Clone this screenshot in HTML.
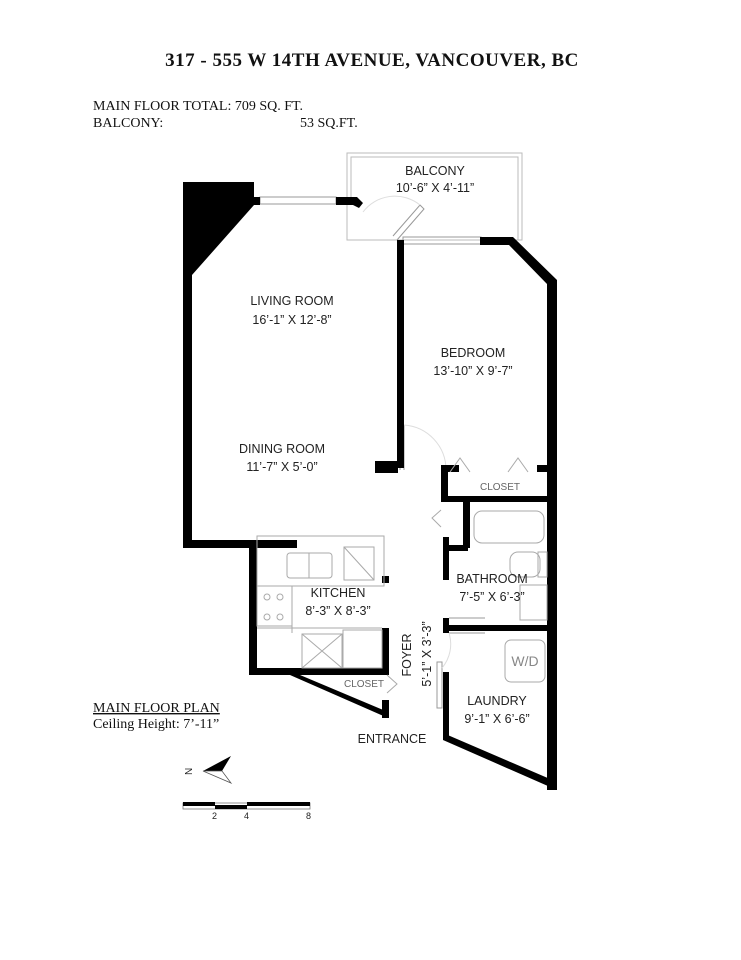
<!DOCTYPE html>
<html><head><meta charset="utf-8"><style>
body{margin:0;background:#fff}
svg{display:block}
.s{font-family:"Liberation Sans",sans-serif;fill:#222}
.r{font-family:"Liberation Serif",serif;fill:#111}
</style></head><body>
<svg width="741" height="960" viewBox="0 0 741 960">
<text x="372" y="66" text-anchor="middle" class="r" font-size="19" font-weight="bold" letter-spacing="0.5">317 - 555 W 14TH AVENUE, VANCOUVER, BC</text>
<text x="93" y="110" class="r" font-size="14">MAIN FLOOR TOTAL: 709 SQ. FT.</text>
<text x="93" y="127" class="r" font-size="14">BALCONY:</text>
<text x="300" y="127" class="r" font-size="14">53 SQ.FT.</text>
<text x="93" y="712" class="r" font-size="14" text-decoration="underline">MAIN FLOOR PLAN</text>
<text x="93" y="728" class="r" font-size="14">Ceiling Height: 7’-11”</text>

<!-- balcony -->
<g fill="none" stroke="#bbb" stroke-width="1">
<rect x="347" y="153" width="175" height="87"/>
<path d="M351 200 V157 H518 V240"/>
</g>
<!-- windows -->
<g fill="none" stroke="#999" stroke-width="1">
<rect x="260" y="197" width="76" height="7"/>
<rect x="403" y="237" width="78" height="7"/>
<path d="M393 236 L420 205 L424 209 L397 240"/>
<path d="M400 425 V470 M404 425 V470"/>
<path d="M437 662 V708 H442 V662 Z"/>
<path d="M449 618 H485 M449 633 H485"/>
</g>
<g fill="none" stroke="#ddd" stroke-width="1">
<path d="M404 425 A45 45 0 0 1 446 470"/>
<path d="M449 633 A37 37 0 0 1 442 668"/>
<path d="M363 212 A40 40 0 0 1 420 205"/>
</g>
<!-- walls -->
<g fill="#000">
<polygon points="183,182 254,182 254,205 192,275 192,548 183,548"/>
<rect x="254" y="197" width="6" height="8"/>
<polygon points="336,197 357,197 363,203 359,208 353,205 336,205"/>
<rect x="397" y="240" width="7" height="228"/>
<rect x="375" y="461" width="23" height="12"/>
<polygon points="480,237 513,237 557,280 557,790 547,790 547,284 509,245 480,245"/>
<rect x="441" y="465" width="18" height="7"/>
<rect x="537" y="465" width="12" height="7"/>
<rect x="441" y="465" width="7" height="37"/>
<rect x="441" y="496" width="110" height="6"/>
<rect x="463" y="502" width="7" height="46"/>
<rect x="443" y="537" width="6" height="43"/>
<rect x="443" y="545" width="25" height="6"/>
<rect x="443" y="618" width="6" height="15"/>
<rect x="443" y="625" width="110" height="6"/>
<rect x="443" y="672" width="6" height="68"/>
<polygon points="443,733 557,782 557,790 443,740"/>
<rect x="183" y="540" width="114" height="8"/>
<rect x="249" y="548" width="8" height="127"/>
<rect x="249" y="668" width="140" height="7"/>
<polygon points="290,675 300,675 388,712 388,718"/>
<rect x="382" y="700" width="7" height="18"/>
<rect x="382" y="628" width="7" height="40"/>
<rect x="382" y="576" width="7" height="7"/>
</g>
<!-- fixtures -->
<g fill="none" stroke="#aaa" stroke-width="1">
<rect x="257" y="536" width="127" height="50"/>
<rect x="287" y="553" width="45" height="25" rx="3"/>
<path d="M309 553 V578"/>
<rect x="344" y="547" width="30" height="33"/><path d="M344 547 L374 580"/>
<rect x="257" y="586" width="35" height="40"/>
<circle cx="267" cy="597" r="3"/><circle cx="280" cy="597" r="3"/><circle cx="267" cy="617" r="3"/><circle cx="280" cy="617" r="3"/>
<path d="M257 628 H382 M292 586 V633"/>
<rect x="302" y="634" width="40" height="34"/><path d="M302 634 L342 668 M342 634 L302 668"/>
<rect x="343" y="630" width="39" height="38"/>
<rect x="474" y="511" width="70" height="32" rx="8"/>
<rect x="510" y="552" width="30" height="25" rx="8"/>
<rect x="538" y="552" width="9" height="25"/>
<rect x="520" y="585" width="27" height="35"/>
<rect x="505" y="640" width="40" height="42" rx="6"/>
<path d="M450 472 L460 458 L470 472 M508 472 L518 458 L528 472 M441 510 L432 518 L441 527 M387 675 L397 684 L387 693"/>
</g>
<!-- labels -->
<g class="s" font-size="12.5" text-anchor="middle">
<text x="435" y="175">BALCONY</text><text x="435" y="192">10’-6” X 4’-11”</text>
<text x="292" y="305">LIVING ROOM</text><text x="292" y="324">16’-1” X 12’-8”</text>
<text x="473" y="357">BEDROOM</text><text x="473" y="375">13’-10” X 9’-7”</text>
<text x="282" y="453">DINING ROOM</text><text x="282" y="471">11’-7” X 5’-0”</text>
<text x="500" y="490" font-size="10" fill="#666">CLOSET</text>
<text x="492" y="583">BATHROOM</text><text x="492" y="601">7’-5” X 6’-3”</text>
<text x="338" y="597">KITCHEN</text><text x="338" y="615">8’-3” X 8’-3”</text>
<text x="364" y="687" font-size="10" fill="#666">CLOSET</text>
<text x="497" y="705">LAUNDRY</text><text x="497" y="723">9’-1” X 6’-6”</text>
<text x="392" y="743">ENTRANCE</text>
<text x="525" y="666" font-size="14" fill="#888">W/D</text>
<text transform="translate(411,655) rotate(-90)">FOYER</text>
<text transform="translate(431,654) rotate(-90)">5’-1” X 3’-3”</text>
</g>
<!-- compass -->
<text x="184" y="775" class="s" font-size="10" transform="rotate(-90 188 771)">N</text>
<polygon points="203,771 231,756 222,771" fill="#000"/>
<polygon points="203,771 222,771 231,783" fill="none" stroke="#555" stroke-width="0.8"/>
<!-- scale -->
<rect x="183" y="803" width="127" height="6" fill="none" stroke="#777" stroke-width="0.8"/>
<rect x="183" y="802" width="32" height="4" fill="#000"/>
<rect x="215" y="805" width="32" height="4" fill="#000"/>
<rect x="247" y="802" width="63" height="4" fill="#000"/>
<g class="s" font-size="9" fill="#888"><text x="212" y="819">2</text><text x="244" y="819">4</text><text x="306" y="819">8</text></g>
</svg>
</body></html>
